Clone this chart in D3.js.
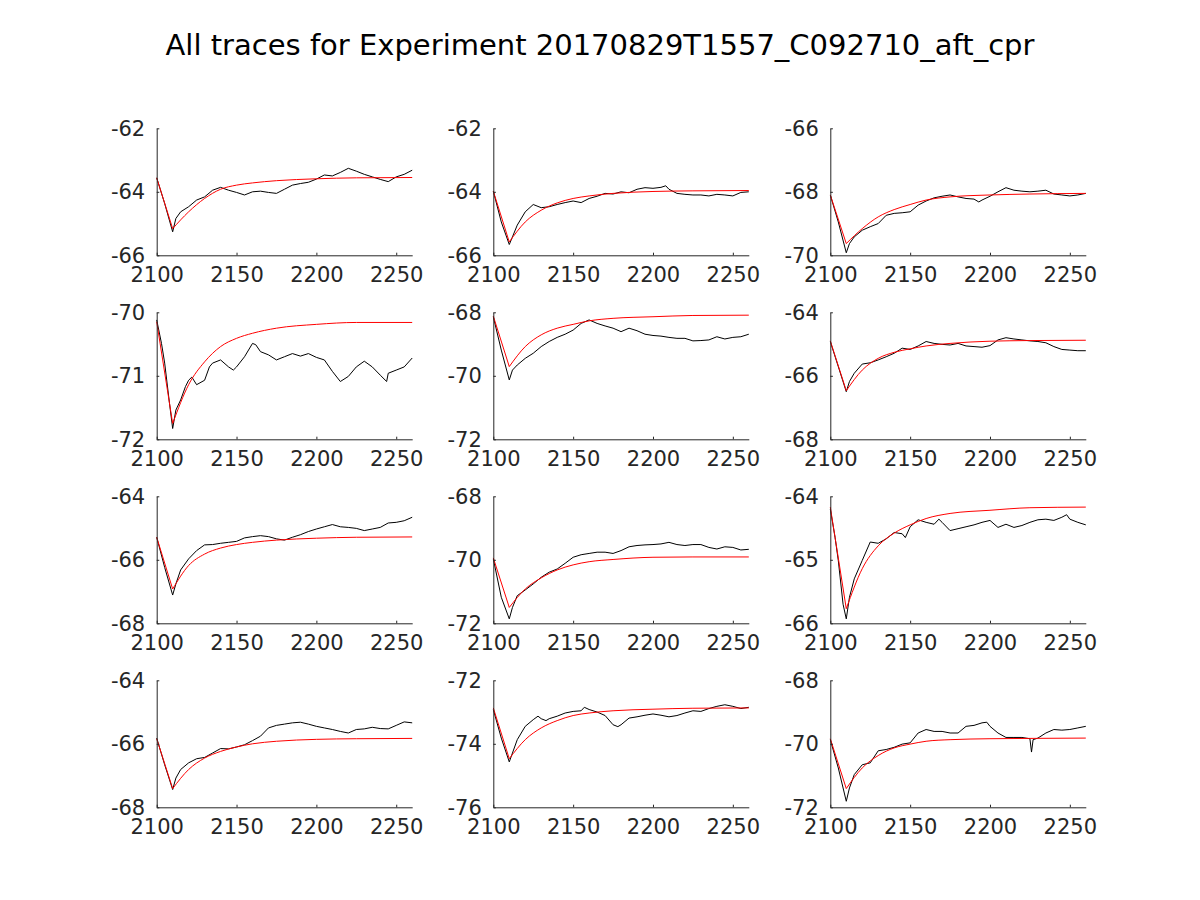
<!DOCTYPE html>
<html><head><meta charset="utf-8">
<script src="https://cdn.jsdelivr.net/npm/d3@7"></script>
<style>body{margin:0;background:#fff}</style>
</head><body>
<svg id="c" width="1200" height="900"></svg>
<script>
const chartTitle = "All traces for Experiment 20170829T1557_C092710_aft_cpr";
const xDomain = [2100, 2260];
const xTicks = [2100, 2150, 2200, 2250];
const yDomains = [[-66,-62],[-66,-62],[-70,-66],[-72,-70],[-72,-68],[-68,-64],
                  [-68,-64],[-72,-68],[-66,-64],[-68,-64],[-76,-72],[-72,-68]];
const fitT = [2100, 2110, 2120, 2130, 2140, 2150, 2160, 2175, 2200, 2225, 2260];
const fit1  = [-63.56,-65.16,-64.63,-64.21,-63.92,-63.79,-63.72,-63.65,-63.59,-63.56,-63.55];
const fit2  = [-63.98,-65.58,-64.95,-64.58,-64.35,-64.21,-64.13,-64.05,-63.99,-63.97,-63.96];
const fit3  = [-68.1,-69.63,-69.16,-68.79,-68.56,-68.4,-68.26,-68.16,-68.1,-68.07,-68.05];
const fit4  = [-70.15,-71.75,-71.14,-70.78,-70.54,-70.41,-70.33,-70.25,-70.19,-70.16,-70.16];
const fit5  = [-68.12,-69.71,-69.08,-68.71,-68.5,-68.38,-68.27,-68.19,-68.14,-68.1,-68.09];
const fit6  = [-64.9,-66.47,-65.82,-65.45,-65.26,-65.15,-65.06,-64.98,-64.91,-64.89,-64.88];
const fit7  = [-65.29,-66.92,-66.18,-65.82,-65.63,-65.52,-65.45,-65.38,-65.32,-65.29,-65.28];
const fit8  = [-69.94,-71.5,-70.92,-70.57,-70.32,-70.16,-70.06,-69.99,-69.92,-69.91,-69.91];
const fit9  = [-64.17,-65.77,-65.14,-64.78,-64.58,-64.45,-64.35,-64.27,-64.22,-64.18,-64.17];
const fit10 = [-65.84,-67.41,-66.81,-66.45,-66.24,-66.1,-66.0,-65.92,-65.86,-65.84,-65.83];
const fit11 = [-72.87,-74.47,-73.87,-73.5,-73.27,-73.11,-73.03,-72.96,-72.91,-72.88,-72.87];
const fit12 = [-69.84,-71.41,-70.76,-70.37,-70.13,-70.01,-69.92,-69.87,-69.84,-69.83,-69.82];

const trace1 = [[2100,-63.56],[2105,-64.37],[2110,-65.26],[2112,-64.84],[2115,-64.63],[2120,-64.47],[2125,-64.26],[2130,-64.16],[2135,-63.95],[2140,-63.86],[2145,-63.95],[2150,-64.02],[2155,-64.1],[2160,-64.0],[2165,-63.98],[2170,-64.02],[2175,-64.05],[2180,-63.92],[2185,-63.79],[2190,-63.74],[2195,-63.7],[2200,-63.6],[2205,-63.47],[2210,-63.5],[2215,-63.39],[2220,-63.26],[2225,-63.35],[2230,-63.45],[2235,-63.53],[2240,-63.61],[2245,-63.68],[2250,-63.53],[2255,-63.45],[2260,-63.32]];
const trace2 = [[2100,-63.98],[2105,-64.95],[2110,-65.66],[2112,-65.42],[2115,-65.05],[2120,-64.63],[2125,-64.4],[2130,-64.5],[2135,-64.47],[2140,-64.4],[2145,-64.34],[2150,-64.29],[2155,-64.34],[2160,-64.21],[2165,-64.14],[2170,-64.05],[2175,-64.07],[2180,-64.0],[2185,-64.03],[2190,-63.92],[2195,-63.87],[2200,-63.89],[2205,-63.86],[2208,-63.81],[2210,-63.92],[2215,-64.05],[2220,-64.08],[2225,-64.1],[2230,-64.1],[2235,-64.13],[2240,-64.08],[2245,-64.1],[2250,-64.13],[2255,-64.02],[2260,-64.0]];
const trace3 = [[2100,-68.1],[2105,-68.95],[2110,-69.92],[2112,-69.63],[2115,-69.42],[2120,-69.21],[2125,-69.1],[2130,-69.0],[2135,-68.74],[2140,-68.68],[2145,-68.66],[2150,-68.63],[2155,-68.42],[2160,-68.29],[2165,-68.19],[2170,-68.14],[2175,-68.1],[2180,-68.16],[2185,-68.21],[2190,-68.23],[2193,-68.32],[2195,-68.26],[2200,-68.14],[2205,-68.0],[2210,-67.87],[2215,-67.95],[2220,-67.98],[2225,-68.0],[2230,-67.98],[2235,-67.95],[2240,-68.07],[2245,-68.1],[2250,-68.13],[2255,-68.1],[2260,-68.05]];
const trace4 = [[2100,-70.12],[2103,-70.49],[2105,-70.8],[2108,-71.43],[2110,-71.83],[2112,-71.54],[2115,-71.38],[2118,-71.17],[2120,-71.07],[2122,-71.02],[2125,-71.14],[2130,-71.07],[2133,-70.86],[2135,-70.8],[2140,-70.75],[2145,-70.86],[2148,-70.91],[2150,-70.86],[2155,-70.7],[2160,-70.49],[2162,-70.51],[2165,-70.62],[2170,-70.67],[2175,-70.75],[2180,-70.7],[2185,-70.65],[2190,-70.69],[2195,-70.65],[2200,-70.71],[2205,-70.75],[2210,-70.93],[2215,-71.09],[2220,-71.01],[2225,-70.86],[2230,-70.77],[2235,-70.86],[2240,-70.99],[2244,-71.09],[2245,-70.96],[2250,-70.91],[2255,-70.86],[2260,-70.72]];
const trace5 = [[2100,-68.14],[2105,-69.19],[2110,-70.13],[2112,-69.82],[2115,-69.66],[2120,-69.45],[2125,-69.29],[2130,-69.08],[2135,-68.92],[2140,-68.79],[2145,-68.69],[2150,-68.56],[2155,-68.35],[2160,-68.24],[2165,-68.35],[2170,-68.43],[2175,-68.5],[2180,-68.61],[2185,-68.5],[2190,-68.58],[2195,-68.69],[2200,-68.73],[2205,-68.75],[2210,-68.79],[2215,-68.82],[2220,-68.82],[2225,-68.9],[2230,-68.89],[2235,-68.87],[2240,-68.77],[2245,-68.84],[2250,-68.79],[2255,-68.77],[2260,-68.69]];
const trace6 = [[2100,-64.92],[2105,-65.71],[2110,-66.5],[2112,-66.18],[2115,-65.92],[2120,-65.63],[2125,-65.59],[2130,-65.5],[2135,-65.4],[2140,-65.29],[2145,-65.13],[2150,-65.17],[2155,-65.06],[2160,-64.92],[2165,-64.98],[2170,-65.01],[2175,-65.03],[2180,-64.98],[2185,-65.06],[2190,-65.08],[2195,-65.1],[2200,-65.05],[2205,-64.87],[2210,-64.8],[2215,-64.84],[2220,-64.87],[2225,-64.9],[2230,-64.92],[2235,-64.96],[2240,-65.08],[2245,-65.17],[2250,-65.19],[2255,-65.21],[2260,-65.21]];
const trace7 = [[2100,-65.29],[2105,-66.24],[2110,-67.11],[2112,-66.76],[2115,-66.32],[2120,-65.97],[2125,-65.71],[2130,-65.53],[2135,-65.52],[2140,-65.48],[2145,-65.45],[2150,-65.42],[2155,-65.31],[2160,-65.27],[2165,-65.24],[2170,-65.27],[2175,-65.34],[2180,-65.38],[2185,-65.29],[2190,-65.21],[2195,-65.11],[2200,-65.03],[2205,-64.96],[2210,-64.89],[2215,-64.96],[2220,-64.98],[2225,-65.01],[2230,-65.08],[2235,-65.03],[2240,-64.98],[2245,-64.84],[2250,-64.82],[2255,-64.77],[2260,-64.66]];
const trace8 = [[2100,-69.97],[2105,-71.18],[2110,-71.86],[2112,-71.5],[2115,-71.13],[2120,-70.95],[2125,-70.76],[2130,-70.55],[2135,-70.39],[2140,-70.29],[2145,-70.11],[2150,-69.92],[2155,-69.84],[2160,-69.8],[2165,-69.76],[2170,-69.76],[2175,-69.8],[2180,-69.71],[2185,-69.59],[2190,-69.55],[2195,-69.53],[2200,-69.52],[2205,-69.5],[2210,-69.45],[2215,-69.52],[2220,-69.55],[2225,-69.52],[2230,-69.52],[2235,-69.61],[2240,-69.66],[2245,-69.59],[2250,-69.61],[2255,-69.69],[2260,-69.67]];
const trace9 = [[2100,-64.2],[2103,-64.65],[2105,-65.01],[2108,-65.7],[2110,-65.93],[2112,-65.59],[2115,-65.3],[2120,-65.01],[2125,-64.72],[2130,-64.74],[2135,-64.67],[2140,-64.57],[2145,-64.59],[2147,-64.65],[2150,-64.48],[2155,-64.37],[2160,-64.41],[2165,-64.44],[2168,-64.36],[2170,-64.41],[2175,-64.54],[2180,-64.51],[2185,-64.48],[2190,-64.45],[2195,-64.41],[2200,-64.38],[2205,-64.49],[2210,-64.44],[2215,-64.49],[2220,-64.46],[2225,-64.41],[2230,-64.37],[2235,-64.36],[2240,-64.38],[2245,-64.33],[2248,-64.29],[2250,-64.36],[2255,-64.41],[2260,-64.45]];
const trace10 = [[2100,-65.82],[2105,-66.66],[2110,-67.44],[2112,-67.08],[2115,-66.81],[2120,-66.6],[2125,-66.47],[2130,-66.43],[2135,-66.29],[2140,-66.15],[2145,-66.16],[2150,-66.1],[2155,-66.03],[2160,-65.9],[2165,-65.76],[2170,-65.5],[2175,-65.42],[2180,-65.38],[2185,-65.34],[2190,-65.32],[2195,-65.38],[2200,-65.45],[2205,-65.5],[2210,-65.55],[2215,-65.61],[2220,-65.66],[2225,-65.55],[2230,-65.53],[2235,-65.48],[2240,-65.52],[2245,-65.53],[2250,-65.42],[2255,-65.31],[2260,-65.34]];
const trace11 = [[2100,-72.92],[2105,-73.82],[2110,-74.57],[2112,-74.29],[2115,-73.87],[2120,-73.45],[2125,-73.24],[2128,-73.13],[2130,-73.21],[2133,-73.27],[2135,-73.21],[2140,-73.13],[2145,-73.03],[2150,-72.98],[2155,-72.96],[2157,-72.85],[2160,-72.92],[2165,-73.0],[2170,-73.11],[2175,-73.4],[2178,-73.46],[2180,-73.4],[2185,-73.19],[2190,-73.15],[2195,-73.1],[2200,-73.06],[2205,-73.1],[2210,-73.15],[2215,-73.11],[2220,-73.03],[2225,-72.96],[2230,-72.98],[2235,-72.89],[2240,-72.82],[2245,-72.77],[2250,-72.82],[2255,-72.89],[2260,-72.85]];
const trace12 = [[2100,-69.87],[2105,-70.76],[2110,-71.81],[2112,-71.39],[2115,-70.97],[2120,-70.66],[2125,-70.6],[2130,-70.22],[2135,-70.18],[2140,-70.11],[2145,-70.01],[2150,-69.97],[2155,-69.66],[2160,-69.55],[2165,-69.61],[2170,-69.61],[2175,-69.66],[2180,-69.66],[2185,-69.45],[2190,-69.42],[2195,-69.34],[2198,-69.32],[2200,-69.45],[2205,-69.66],[2210,-69.8],[2215,-69.8],[2220,-69.8],[2225,-69.84],[2226,-70.26],[2227,-69.87],[2230,-69.82],[2235,-69.66],[2240,-69.55],[2245,-69.57],[2250,-69.55],[2255,-69.5],[2260,-69.45]];

const traces = [trace1,trace2,trace3,trace4,trace5,trace6,trace7,trace8,trace9,trace10,trace11,trace12];
const fits = [fit1,fit2,fit3,fit4,fit5,fit6,fit7,fit8,fit9,fit10,fit11,fit12];

const colLeft = [156.7, 493.3, 830.3];
const rowTop = [128.3, 312.3, 496.3, 680.3];
const pw = 255.5, ph = 127;
const txt = "#262626";
const font = "DejaVu Sans, sans-serif";
const fmt = d => String(d);

const svg = d3.select("#c");
svg.append("rect").attr("width",1200).attr("height",900).attr("fill","#fff");
svg.append("text").attr("x",600).attr("y",55).attr("text-anchor","middle")
  .attr("font-family",font).attr("font-size",29).attr("fill","#000").text(chartTitle);

traces.forEach((tr, i) => {
  const r = Math.floor(i/3), c = i%3;
  const g = svg.append("g").attr("transform",`translate(${colLeft[c]},${rowTop[r]})`);
  const x = d3.scaleLinear().domain(xDomain).range([0,pw]);
  const yd = yDomains[i];
  const y = d3.scaleLinear().domain(yd).range([ph,0]);
  const yTicks = [yd[0], (yd[0]+yd[1])/2, yd[1]];

  const line = d3.line().x(d=>x(d[0])).y(d=>y(d[1]));
  g.append("path").datum(tr).attr("d",line).attr("fill","none")
    .attr("stroke","#000").attr("stroke-width",1);

  const fitPts = fitT.map((t,k)=>[t, fits[i][k]]);
  const seg1 = fitPts.slice(0,2);
  const seg2 = fitPts.slice(1);
  g.append("path").datum(seg1).attr("d",line).attr("fill","none")
    .attr("stroke","#ff0000").attr("stroke-width",1);
  g.append("path").datum(seg2).attr("d",line.curve(d3.curveMonotoneX)).attr("fill","none")
    .attr("stroke","#ff0000").attr("stroke-width",1);

  const xa = g.append("g").attr("transform",`translate(0,${ph})`)
    .call(d3.axisBottom(x).tickValues(xTicks).tickFormat(fmt)
      .tickSizeInner(-2.6).tickSizeOuter(0).tickPadding(11.5));
  const ya = g.append("g")
    .call(d3.axisLeft(y).tickValues(yTicks).tickFormat(fmt)
      .tickSizeInner(-2.6).tickSizeOuter(0).tickPadding(11.5));
  [xa,ya].forEach(a=>{
    a.attr("font-family",font).attr("font-size",21);
    a.selectAll("path,line").attr("stroke",txt).attr("stroke-width",1);
    a.selectAll("text").attr("fill",txt);
  });
});
</script>
</body></html>
